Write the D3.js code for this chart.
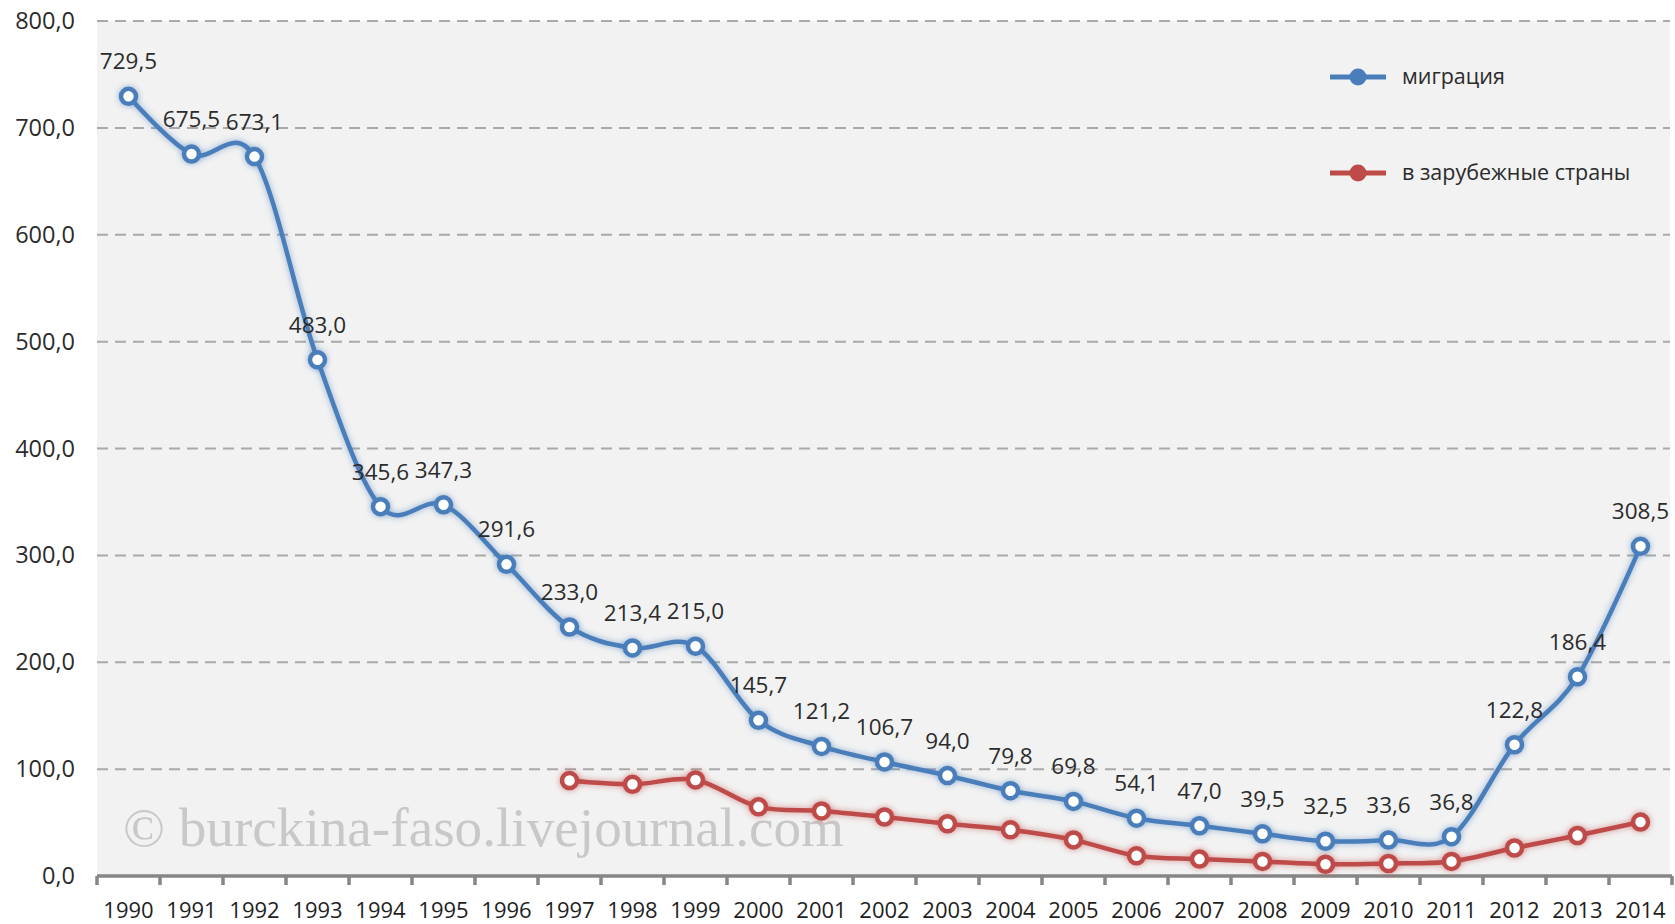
<!DOCTYPE html>
<html><head><meta charset="utf-8">
<script src="https://cdn.jsdelivr.net/npm/d3@7"></script>
<style>
html,body{margin:0;padding:0;background:#fff;}
svg{display:block;}
</style></head>
<body>
<svg id="chart" width="1675" height="924"></svg>
<script>
const years = [1990,1991,1992,1993,1994,1995,1996,1997,1998,1999,2000,2001,2002,2003,2004,2005,2006,2007,2008,2009,2010,2011,2012,2013,2014];
const migration = [729.5,675.5,673.1,483.0,345.6,347.3,291.6,233.0,213.4,215.0,145.7,121.2,106.7,94.0,79.8,69.8,54.1,47.0,39.5,32.5,33.6,36.8,122.8,186.4,308.5];
const abroadYears = [1997,1998,1999,2000,2001,2002,2003,2004,2005,2006,2007,2008,2009,2010,2011,2012,2013,2014];
const abroad = [89.3,85.8,89.9,64.7,60.9,55.2,48.9,43.2,33.8,18.9,15.8,13.6,11.0,11.7,13.6,26.2,37.9,50.5];
const yTicks = [0,100,200,300,400,500,600,700,800];
const seriesNames = ["миграция","в зарубежные страны"];
const watermark = "© burckina-faso.livejournal.com";

const blue = "#4A7EBB", red = "#BE4B48";
const sans = "'Open Sans', sans-serif";
const svg = d3.select("#chart");
const pLeft = 97, pRight = 1672, pTop = 21, pBottom = 876;

const x = d3.scaleBand().domain(years).range([pLeft, pRight]).padding(0);
const cx = d => x(d) + x.bandwidth()/2;
const y = d3.scaleLinear().domain([0,800]).range([pBottom, pTop]);
const loc = d3.formatLocale({decimal:",", thousands:" ", grouping:[3], currency:["",""]});
const fmt = loc.format(".1f");

const defs = svg.append("defs");
function glow(id, color, sd, op){
  const f = defs.append("filter").attr("id", id).attr("x","-50%").attr("y","-50%").attr("width","200%").attr("height","200%");
  f.append("feGaussianBlur").attr("in","SourceAlpha").attr("stdDeviation",sd).attr("result","b");
  f.append("feFlood").attr("flood-color", color).attr("flood-opacity",op);
  f.append("feComposite").attr("in2","b").attr("operator","in").attr("result","g");
  const m = f.append("feMerge");
  m.append("feMergeNode").attr("in","g");
  m.append("feMergeNode").attr("in","SourceGraphic");
}
glow("gb", blue, 3, 0.6); glow("gr", red, 3, 0.6);

// plot background
svg.append("rect").attr("x", pLeft).attr("y", y(800)).attr("width", 1670-pLeft).attr("height", pBottom - y(800)).attr("fill", "#f2f2f2");

// gridlines
svg.append("g").selectAll("line").data(yTicks.filter(d => d > 0)).join("line")
  .attr("x1", pLeft).attr("x2", 1670).attr("y1", d => y(d)).attr("y2", d => y(d))
  .attr("stroke", "#a9a9a9").attr("stroke-width", 2).attr("stroke-dasharray", "11,7");

// y axis labels
const yAxis = d3.axisLeft(y).tickValues(yTicks).tickFormat(fmt).tickSize(0).tickPadding(22);
const gy = svg.append("g").attr("transform", `translate(${pLeft},0)`).call(yAxis);
gy.select(".domain").remove();
gy.selectAll("text").attr("font-size", 23.5).attr("fill", "#2b2b2b").style("font-family", sans);

// watermark
svg.append("text").attr("x", 123).attr("y", 846).text(watermark)
  .style("font-family", "'Liberation Serif', serif").attr("font-size", 54).attr("fill", "#c8c8c8")
  .attr("textLength", 721).attr("lengthAdjust", "spacingAndGlyphs");

// x axis
const xAxis = d3.axisBottom(x).tickSize(0).tickPadding(26);
const gx = svg.append("g").attr("transform", `translate(0,${pBottom})`).call(xAxis);
gx.select(".domain").remove();
gx.selectAll("text").attr("font-size", 22).attr("fill", "#1e1e1e").style("font-family", sans);
svg.append("line").attr("x1", pLeft).attr("x2", pRight).attr("y1", pBottom).attr("y2", pBottom)
  .attr("stroke", "#868686").attr("stroke-width", 3.5);
svg.append("g").selectAll("line").data(years.map(d => x(d)).concat([pRight])).join("line")
  .attr("x1", d => d).attr("x2", d => d).attr("y1", pBottom).attr("y2", pBottom + 9)
  .attr("stroke", "#868686").attr("stroke-width", 3.5);

const line = d3.line().curve(d3.curveCardinal.tension(0)).x(d => cx(d[0])).y(d => y(d[1]));

function series(yrs, vals, color, filt, labels){
  const data = yrs.map((d,i) => [d, vals[i]]);
  svg.append("path").datum(data).attr("d", line).attr("fill", "none")
    .attr("stroke", color).attr("stroke-width", 4.5).attr("stroke-linejoin","round").attr("filter", `url(#${filt})`);
  svg.append("g").selectAll("circle").data(data).join("circle")
    .attr("cx", d => cx(d[0])).attr("cy", d => y(d[1])).attr("r", 7.5)
    .attr("fill", "#fff").attr("stroke", color).attr("stroke-width", 4.5).attr("filter", `url(#${filt})`);
  if (labels) {
    svg.append("g").selectAll("text").data(data).join("text")
      .attr("x", d => cx(d[0])).attr("y", d => y(d[1]) - 27).attr("text-anchor", "middle")
      .style("font-family", sans).attr("font-size", 22.5).attr("fill", "#2b2b2b").text(d => fmt(d[1]));
  }
}
series(abroadYears, abroad, red, "gr", false);
series(years, migration, blue, "gb", true);

// legend
const legend = [{name: seriesNames[0], color: blue, y: 77}, {name: seriesNames[1], color: red, y: 173}];
const lg = svg.append("g").selectAll("g").data(legend).join("g");
lg.append("line").attr("x1", 1330).attr("x2", 1386).attr("y1", d => d.y).attr("y2", d => d.y)
  .attr("stroke", d => d.color).attr("stroke-width", 5);
lg.append("circle").attr("cx", 1358).attr("cy", d => d.y).attr("r", 8.5).attr("fill", d => d.color);
lg.append("text").attr("x", 1402).attr("y", d => d.y + 7).style("font-family", sans).attr("font-size", 21.5).attr("fill", "#2b2b2b").text(d => d.name);
</script>
</body></html>
